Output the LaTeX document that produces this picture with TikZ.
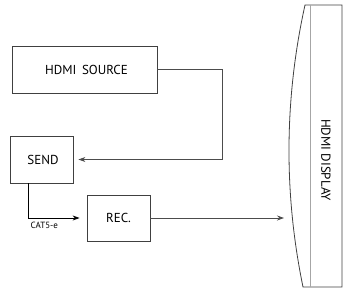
\documentclass[tikz,border=0pt]{standalone}
\usepackage{fontspec}
\setmainfont{PT Sans}
\usetikzlibrary{arrows.meta, positioning}
\begin{document}
\begin{tikzpicture}[x=1pt, y=-1pt,
      caja/.style={draw=black!75, line width=0.8pt, inner sep=0pt,
                   font=\fontsize{13}{15}\selectfont},
      flecha/.style={-{Stealth[length=7pt, width=5pt]}, draw=black!70, line width=0.8pt}]
    \useasboundingbox (0,0) rectangle (350,295);
    \node[caja, minimum width=145pt, minimum height=47pt] (fuente) at (84.5,69.5) {\hspace{4pt}HDMI\ \,SOURCE};
    \node[caja, minimum width=63pt, minimum height=47pt] (envio) at (41.5,159.5) {\hspace{3pt}SEND};
    \node[caja, minimum width=63pt, minimum height=46pt] (recep) at (118.5,218) {REC.};
    % pantalla
    \draw[black!75, line width=0.8pt] (305,5) .. controls (284,100) and (284,195) .. (303,287)
      -- (342,287) -- (342,5) -- cycle;
    \draw[black!35, line width=0.4pt] (310,5) -- (310,287);
    \node[rotate=-90, font=\fontsize{13}{15}\selectfont] (pantalla) at (326,160) {HDMI DISPLAY};
    \coordinate (entrada) at (284,218);
    \draw[flecha, shorten >=5pt] (fuente.east) -- ++(65,0) |- (envio.east);
    \draw[flecha, shorten >=7pt, draw=black] ([xshift=-13.5pt]envio.south) |- node[pos=0.5, anchor=north west, xshift=-1pt, font=\fontsize{9}{10}\selectfont]{CAT5-e} (recep.west);
    \draw[flecha] (recep.east) -- (entrada);
  \end{tikzpicture}
\end{document}
